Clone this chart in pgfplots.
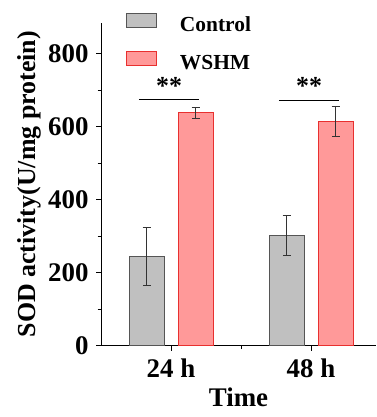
\documentclass[border=0pt]{standalone}
\usepackage{pgfplots}
\pgfplotsset{compat=1.18}
\usepackage{fontspec}
\setmainfont{Liberation Serif}
\definecolor{ctrlfill}{HTML}{C0C0C0}
\definecolor{ctrledge}{HTML}{555555}
\definecolor{wfill}{HTML}{FF9999}
\definecolor{wedge}{HTML}{E8302F}
\definecolor{errc}{HTML}{333333}
\begin{document}
\begin{tikzpicture}
\begin{axis}[
  scale only axis, width=275bp, height=323bp,
  xmin=0.5, xmax=2.464, ymin=0, ymax=885,
  clip=false,
  axis lines=left, axis line style={-, line width=0.8bp},
  ybar, bar width=0.25,
  xtick={1,2}, xticklabels={24 h, 48 h},
  minor xtick={1.5,2.5},
  ytick={0,200,400,600,800}, minor ytick={100,300,500,700},
  tick align=outside, major tick length=5bp, minor tick length=3.5bp,
  tick style={line width=0.8bp, black},
  /pgf/number format/assume math mode=true,
  tick label style={font=\bfseries\fontsize{27}{27}\selectfont},
  yticklabel style={xshift=-4bp},
  xticklabel style={yshift=-5bp},
  xlabel={Time}, ylabel={SOD activity(U/mg protein)},
  xlabel style={font=\bfseries\fontsize{27}{27}\selectfont, at={(axis description cs:0.5,-0.161)}, anchor=center},
  ylabel style={font=\bfseries\fontsize{26}{26}\selectfont, at={(axis description cs:-0.262,0.5)}, anchor=center},
  legend style={draw=none, fill=none, inner sep=0bp, at={(axis description cs:0.0909,1.031)}, anchor=north west,
    font=\bfseries\fontsize{21.5}{21.5}\selectfont, row sep=15bp, column sep=0bp,
    nodes={inner sep=0bp, text height=15bp, text depth=5bp}},
  legend cell align=left,
  legend image code/.code={\draw[#1, line width=0.8bp] (0bp,-1bp) rectangle (30bp,13bp); \path (53bp,0bp);},
]
\addplot[fill=ctrlfill, draw=ctrledge, line width=0.8bp, bar shift=-0.175,
  error bars/.cd, y dir=both, y explicit,
  error bar style={errc, line width=1bp},
  error mark options={rotate=90, errc, mark size=4bp, line width=1bp}]
  coordinates {(1,244) +- (0,80) (2,302) +- (0,54)};
\addlegendentry{Control}
\addplot[fill=wfill, draw=wedge, line width=0.8bp, bar shift=0.175,
  error bars/.cd, y dir=both, y explicit,
  error bar style={errc, line width=1bp},
  error mark options={rotate=90, errc, mark size=4bp, line width=1bp}]
  coordinates {(1,638) +- (0,15) (2,615) +- (0,41)};
\addlegendentry{WSHM}
\draw[line width=1bp] (axis cs:0.771,674) -- (axis cs:1.198,674);
\draw[line width=1bp] (axis cs:1.771,671) -- (axis cs:2.2,671);
\node[font=\bfseries\fontsize{26}{26}\selectfont, anchor=base] at (axis cs:0.986,688) {**};
\node[font=\bfseries\fontsize{26}{26}\selectfont, anchor=base] at (axis cs:1.986,688) {**};
\coordinate (SW) at (rel axis cs:0,0);
\coordinate (NE) at (rel axis cs:1,1);
\end{axis}
\pgfresetboundingbox
\path ([shift={(-101bp,-71.3bp)}]SW) rectangle ([shift={(0bp,22.7bp)}]NE);
\end{tikzpicture}
\end{document}
